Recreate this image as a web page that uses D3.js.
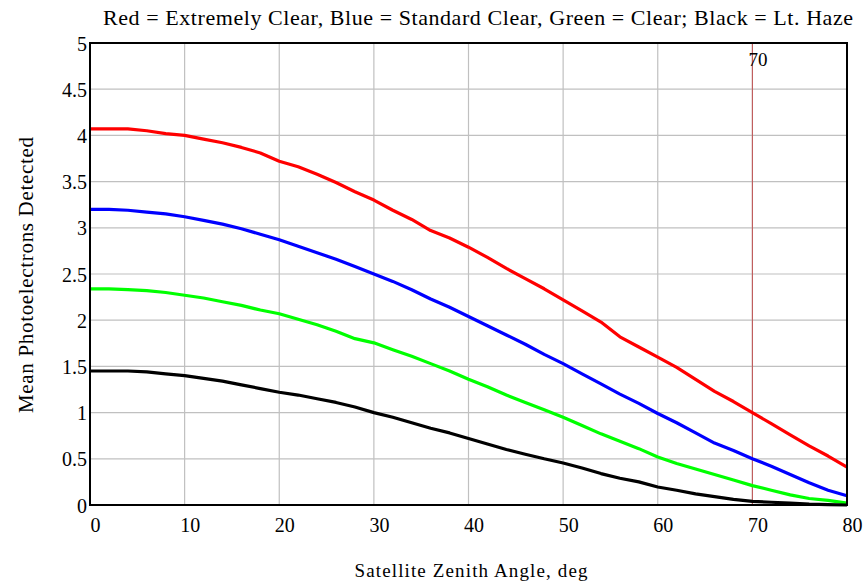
<!DOCTYPE html>
<html>
<head>
<meta charset="utf-8">
<script src="https://cdn.jsdelivr.net/npm/d3@7"></script>
<style>
  body { margin: 0; background: #fff; }
  svg text { font-family: "Liberation Serif", "Times New Roman", serif; fill: #000; }
</style>
</head>
<body>
<svg id="chart" width="865" height="585"></svg>
<script>
// zenith angle samples, deg
const angles = d3.range(0, 81, 2);

// mean photoelectrons detected
const extremelyClear = [4.07, 4.07, 4.07, 4.05, 4.02, 4.00, 3.96, 3.92, 3.87, 3.81, 3.72, 3.66, 3.58, 3.49, 3.39, 3.30, 3.19, 3.09, 2.97, 2.89, 2.79, 2.68, 2.56, 2.45, 2.34, 2.22, 2.10, 1.98, 1.82, 1.71, 1.60, 1.49, 1.36, 1.23, 1.12, 1.00, 0.88, 0.76, 0.64, 0.53, 0.41];
const standardClear  = [3.20, 3.20, 3.19, 3.17, 3.15, 3.12, 3.08, 3.04, 2.99, 2.93, 2.87, 2.80, 2.73, 2.66, 2.58, 2.50, 2.42, 2.33, 2.23, 2.14, 2.04, 1.94, 1.84, 1.74, 1.63, 1.53, 1.42, 1.31, 1.20, 1.10, 0.99, 0.89, 0.78, 0.67, 0.59, 0.50, 0.42, 0.33, 0.24, 0.16, 0.10];
const clear          = [2.34, 2.34, 2.33, 2.32, 2.30, 2.27, 2.24, 2.20, 2.16, 2.11, 2.07, 2.01, 1.95, 1.88, 1.80, 1.755, 1.68, 1.61, 1.53, 1.45, 1.36, 1.28, 1.19, 1.11, 1.03, 0.95, 0.86, 0.77, 0.69, 0.61, 0.52, 0.45, 0.39, 0.33, 0.27, 0.21, 0.16, 0.11, 0.07, 0.05, 0.02];
const ltHaze         = [1.45, 1.45, 1.45, 1.44, 1.42, 1.40, 1.37, 1.34, 1.30, 1.26, 1.22, 1.19, 1.15, 1.11, 1.06, 1.00, 0.95, 0.89, 0.83, 0.78, 0.72, 0.66, 0.60, 0.55, 0.50, 0.455, 0.40, 0.34, 0.29, 0.25, 0.195, 0.16, 0.12, 0.09, 0.06, 0.04, 0.03, 0.02, 0.01, 0.005, 0.0];

const seriesNames  = ["Extremely Clear", "Standard Clear", "Clear", "Lt. Haze"];
const seriesColors = ["#ff0000", "#0000ff", "#00ff00", "#000000"];
const seriesValues = [extremelyClear, standardClear, clear, ltHaze];

const xTicks = [0, 10, 20, 30, 40, 50, 60, 70, 80];
const yTicks = [0, 0.5, 1, 1.5, 2, 2.5, 3, 3.5, 4, 4.5, 5];
const markerAngle = 70;

const titleText = "Red = Extremely Clear, Blue = Standard Clear, Green = Clear; Black = Lt. Haze";
const xLabel = "Satellite Zenith Angle, deg";
const yLabel = "Mean Photoelectrons Detected";

const margin = { top: 43, right: 18, bottom: 80, left: 90 };
const W = 865, H = 585;
const FONT = "Liberation Serif";

const svg = d3.select("#chart");

const x = d3.scaleLinear().domain([0, 80]).range([margin.left, W - margin.right]);
const y = d3.scaleLinear().domain([0, 5]).range([H - margin.bottom, margin.top]);

// grid
svg.append("g").selectAll("line").data(xTicks.slice(1, -1)).join("line")
    .attr("x1", d => x(d)).attr("x2", d => x(d))
    .attr("y1", y(0)).attr("y2", y(5))
    .attr("stroke", "#c0c0c0").attr("stroke-width", 1.2);
svg.append("g").selectAll("line").data(yTicks.slice(1, -1)).join("line")
    .attr("x1", x(0)).attr("x2", x(80))
    .attr("y1", d => y(d)).attr("y2", d => y(d))
    .attr("stroke", "#c0c0c0").attr("stroke-width", 1.2);

// marker at 70 deg
svg.append("line")
    .attr("x1", x(markerAngle)).attr("x2", x(markerAngle))
    .attr("y1", y(0)).attr("y2", y(5))
    .attr("stroke", "#c05050").attr("stroke-width", 1);
svg.append("text")
    .attr("x", x(markerAngle) - 4).attr("y", y(5) + 23)
    .attr("font-family", FONT).attr("font-size", 19)
    .text(markerAngle);

// curves
const line = d3.line().x((d, i) => x(angles[i])).y(d => y(d));
svg.append("g").selectAll("path").data(seriesValues).join("path")
    .attr("d", line)
    .attr("fill", "none")
    .attr("stroke", (d, i) => seriesColors[i])
    .attr("stroke-width", 3.2)
    .attr("stroke-linejoin", "round");

// frame
svg.append("rect")
    .attr("x", x(0)).attr("y", y(5))
    .attr("width", x(80) - x(0)).attr("height", y(0) - y(5))
    .attr("fill", "none").attr("stroke", "#000").attr("stroke-width", 2);

// tick labels
const xAxis = svg.append("g").attr("transform", `translate(0,${y(0)})`)
    .call(d3.axisBottom(x).tickValues(xTicks).tickSize(0).tickPadding(0).tickFormat(d3.format("d")));
xAxis.select(".domain").remove();
xAxis.attr("font-family", FONT);
xAxis.selectAll("text")
    .attr("font-size", 20).attr("dy", null).attr("y", 27).attr("dx", 5);

const yAxis = svg.append("g").attr("transform", `translate(${x(0)},0)`)
    .call(d3.axisLeft(y).tickValues(yTicks).tickSize(0).tickPadding(3).tickFormat(d3.format("")));
yAxis.select(".domain").remove();
yAxis.attr("font-family", FONT);
yAxis.selectAll("text")
    .attr("font-size", 20).attr("dy", "0.75em").attr("y", -8);

// titles
svg.append("text")
    .attr("x", 478).attr("y", 25)
    .attr("text-anchor", "middle")
    .attr("font-family", FONT).attr("font-size", 22)
    .attr("textLength", 750).attr("lengthAdjust", "spacing")
    .text(titleText);
svg.append("text")
    .attr("x", 471).attr("y", 577)
    .attr("text-anchor", "middle")
    .attr("font-family", FONT).attr("font-size", 19)
    .attr("textLength", 233).attr("lengthAdjust", "spacing")
    .text(xLabel);
svg.append("text")
    .attr("transform", "translate(33,275) rotate(-90)")
    .attr("text-anchor", "middle")
    .attr("font-family", FONT).attr("font-size", 21)
    .attr("textLength", 276).attr("lengthAdjust", "spacing")
    .text(yLabel);
</script>
</body>
</html>
